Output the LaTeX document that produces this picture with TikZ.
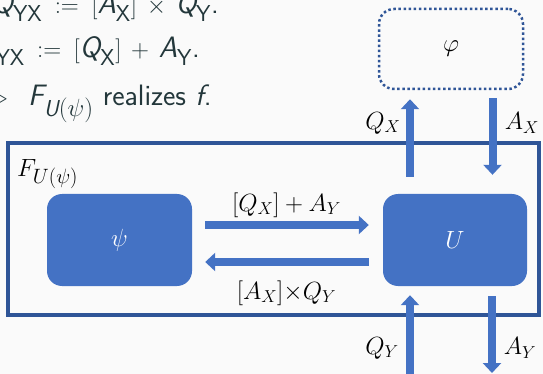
\documentclass[tikz,border=0pt]{standalone}
\usepackage{amsmath}
\usetikzlibrary{arrows.meta,positioning}
\definecolor{boxblue}{HTML}{4472C4}
\definecolor{frameblue}{HTML}{2F5597}
\definecolor{slidetext}{HTML}{23373B}
\definecolor{slidebg}{HTML}{FAFAFA}
\DeclareMathSizes{29.5}{29.5}{23}{18}
% sans letters for the slide text
\newcommand\sfv[1]{\text{\itshape #1}}
\newcommand\sfs[1]{\text{#1}}
\newcommand\slidefont{\sffamily\fontsize{29.5}{35}\selectfont
  \thickmuskip=9mu plus 5mu\relax\medmuskip=7mu plus 2mu minus 4mu\relax}
\tikzset{
  slideline/.style={text=slidetext,inner sep=0,font=\slidefont},
  lbl/.style={font=\fontsize{27}{32}\selectfont,inner sep=0},
  block/.style={fill=boxblue,rounded corners=15pt,minimum width=145pt,minimum height=92pt,
    inner sep=0,text=white,font=\fontsize{30}{36}\selectfont},
  flow/.style={draw=boxblue,line width=8pt,-{Triangle[width=18pt,length=10pt]}},
}
\begin{document}
\begin{tikzpicture}[x=1pt,y=-1pt]
\fill[slidebg] (0,0) rectangle (543,374);
\useasboundingbox (0,0) rectangle (543,374);
% slide text, cut at the left edge
\node[slideline,anchor=base east] (eqq) at (219,14) {$\sfv{Q}_{\sfs{YX}} := [\sfv{A}_{\sfs{X}}] \times \sfv{Q}_{\sfs{Y}}$.};
\node[slideline,anchor=base east] (eqa) at (200,58) {$\sfv{A}_{\sfs{YX}} := [\sfv{Q}_{\sfs{X}}] + \sfv{A}_{\sfs{Y}}$.};
\node[slideline,anchor=base west] (claim) at (28,106) {\llap{$\triangleright$\hspace{21pt}}$\sfv{F}_{\sfv{U}(\psi)}$ realizes $\sfv{f}$.};
% outer box
\draw[frameblue,line width=3.5pt] (8,143) rectangle (539,315);
\node[lbl,anchor=base west,font=\fontsize{28}{33}\selectfont] (fname) at (17,177) {$F_{U(\psi)}$};
% inner blocks
\node[block] (psi) at (119.5,240) {$\psi$};
\node[block,minimum width=144pt] (U) at (455,240) {$U$};
\node[draw=frameblue,line width=2.5pt,dash pattern=on 2.5pt off 2.6pt,rounded corners=15pt,
  minimum width=144pt,minimum height=80pt,inner sep=0,font=\fontsize{30}{36}\selectfont] (phi) at (451,49) {$\varphi$};
% arrows between psi and U
\draw[flow,shorten <=13pt,shorten >=14pt] ([yshift=15pt]psi.east) -- ([yshift=15pt]U.west);
\draw[flow,shorten <=14pt,shorten >=13pt] ([yshift=-22pt]U.west) -- ([yshift=-22pt]psi.east);
\node[lbl] (fwd) at (286.5,205) {$[Q_X]+A_Y$};
\node[lbl] (bwd) at (286.5,293) {$[A_X]{\times}Q_Y$};
% arrows to and from phi
\draw[flow,shorten <=17pt,shorten >=9pt] ([xshift=-45pt]U.north) -- ([xshift=-41pt]phi.south);
\draw[flow,shorten <=8pt,shorten >=19pt] ([xshift=41.5pt]phi.south) -- ([xshift=37.5pt]U.north);
\node[lbl] (qx) at (383,123) {$Q_X$};
\node[lbl] (ax) at (522,123) {$A_X$};
% outside world
\coordinate (qyin) at (410,380);
\coordinate (ayout) at (492,373);
\draw[flow,shorten >=9pt] (qyin) -- (qyin |- U.south);
\draw[flow,shorten <=10pt] (ayout |- U.south) -- (ayout);
\node[lbl] (qy) at (382,348) {$Q_Y$};
\node[lbl] (ay) at (520,348) {$A_Y$};
\end{tikzpicture}
\end{document}
